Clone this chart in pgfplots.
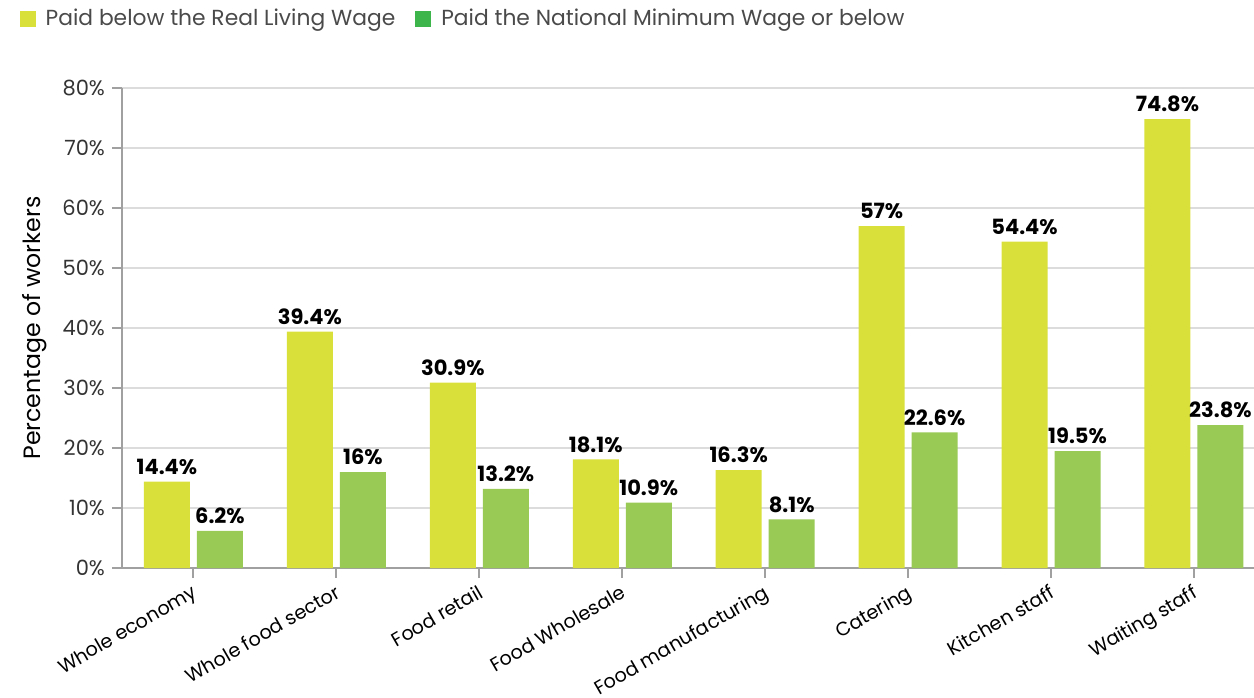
\documentclass[border=0pt]{standalone}
\usepackage{pgfplots}
\pgfplotsset{compat=1.18}
\usepackage{fontspec}
\setmainfont{Poppins}
\definecolor{cyel}{HTML}{D9E03A}
\definecolor{cgrn}{HTML}{98CA55}
\definecolor{lgrn}{HTML}{3DB54A}
\definecolor{axgray}{HTML}{A0A0A0}
\definecolor{gridgray}{HTML}{DCDCDC}
\definecolor{legtext}{HTML}{4A4A4A}
\definecolor{ticktext}{HTML}{333333}
\begin{document}
\begin{tikzpicture}
\path[use as bounding box] (0,0) rectangle (627pt,348.5pt);
\begin{axis}[
  at={(61pt,64.5pt)}, anchor=south west,
  scale only axis, width=566pt, height=240pt,
  xmin=-0.5, xmax=7.42, ymin=0, ymax=80,
  axis lines*=left,
  axis line style={axgray, line width=1pt},
  ytick={0,10,...,80},
  yticklabel={\pgfmathprintnumber{\tick}\%},
  /pgf/number format/assume math mode=true,
  ymajorgrids, major grid style={gridgray, line width=1pt},
  tick align=outside,
  major tick length=5pt,
  tick style={axgray, line width=1pt},
  xtick={0,...,7},
  xticklabels={Whole economy, Whole food sector, Food retail, Food Wholesale, Food manufacturing, Catering, Kitchen staff, Waiting staff},
  xticklabel style={rotate=30, anchor=north east, font=\fontsize{9.6}{12}\selectfont, text=black, yshift=1.5pt, xshift=1pt},
  yticklabel style={font=\fontsize{10.5}{12}\selectfont, text=ticktext},
  ylabel={Percentage of workers},
  ylabel style={font=\fontsize{11.8}{13}\selectfont, text=black, yshift=1pt},
  ybar, bar width=23pt,
  nodes near coords={\pgfmathprintnumber{\pgfplotspointmeta}\%},
  every node near coord/.append style={font=\bfseries\fontsize{10.5}{12}\selectfont, text=black},
  legend style={at={(-0.096,1.144)}, anchor=west, draw=none, fill=none, legend columns=2,
    font=\fontsize{10.9}{12}\selectfont, text=legtext,
    /tikz/every even column/.append style={column sep=8pt}},
  legend cell align=left,
  legend image code/.code={\fill[#1] (0pt,-4pt) rectangle (8pt,4pt); \path (11pt,0pt);},
]
\addplot[fill=cyel, draw=none, bar shift=-13.25pt, forget plot] coordinates {
 (0,14.4) (1,39.4) (2,30.9) (3,18.1) (4,16.3) (5,57) (6,54.4) (7,74.8)};
\addplot[fill=cgrn, draw=none, bar shift=13.25pt, forget plot] coordinates {
 (0,6.2) (1,16) (2,13.2) (3,10.9) (4,8.1) (5,22.6) (6,19.5) (7,23.8)};
\addlegendimage{fill=cyel, draw=none}
\addlegendentry{Paid below the Real Living Wage}
\addlegendimage{fill=lgrn, draw=none}
\addlegendentry{Paid the National Minimum Wage or below}
\end{axis}
\end{tikzpicture}
\end{document}
